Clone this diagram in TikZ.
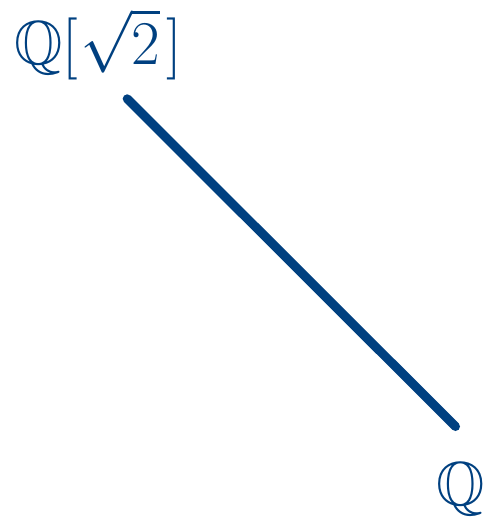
\documentclass[tikz,border=0pt]{standalone}
\usepackage{amssymb}
\definecolor{lineblue}{RGB}{0,64,128}
\begin{document}
\begin{tikzpicture}[x=0.4pt,y=-0.4pt,
  lbl/.style={text=lineblue,font=\Huge,inner sep=0pt,anchor=base},
  edge/.style={draw=lineblue,line width=3.6pt,line cap=round}]
\useasboundingbox (0,0) rectangle (485,519);
\node[lbl] (top) at (98.1,65) {$\mathbb{Q}[\mkern0.6mu\sqrt{2}\mkern1.8mu]$};
\node[lbl] (bot) at (460.5,505) {$\mathbb{Q}$};
\coordinate (a) at (127.2,98.8);
\coordinate (b) at (455.5,426.5);
\draw[edge] (a) -- (b);
\end{tikzpicture}
\end{document}
